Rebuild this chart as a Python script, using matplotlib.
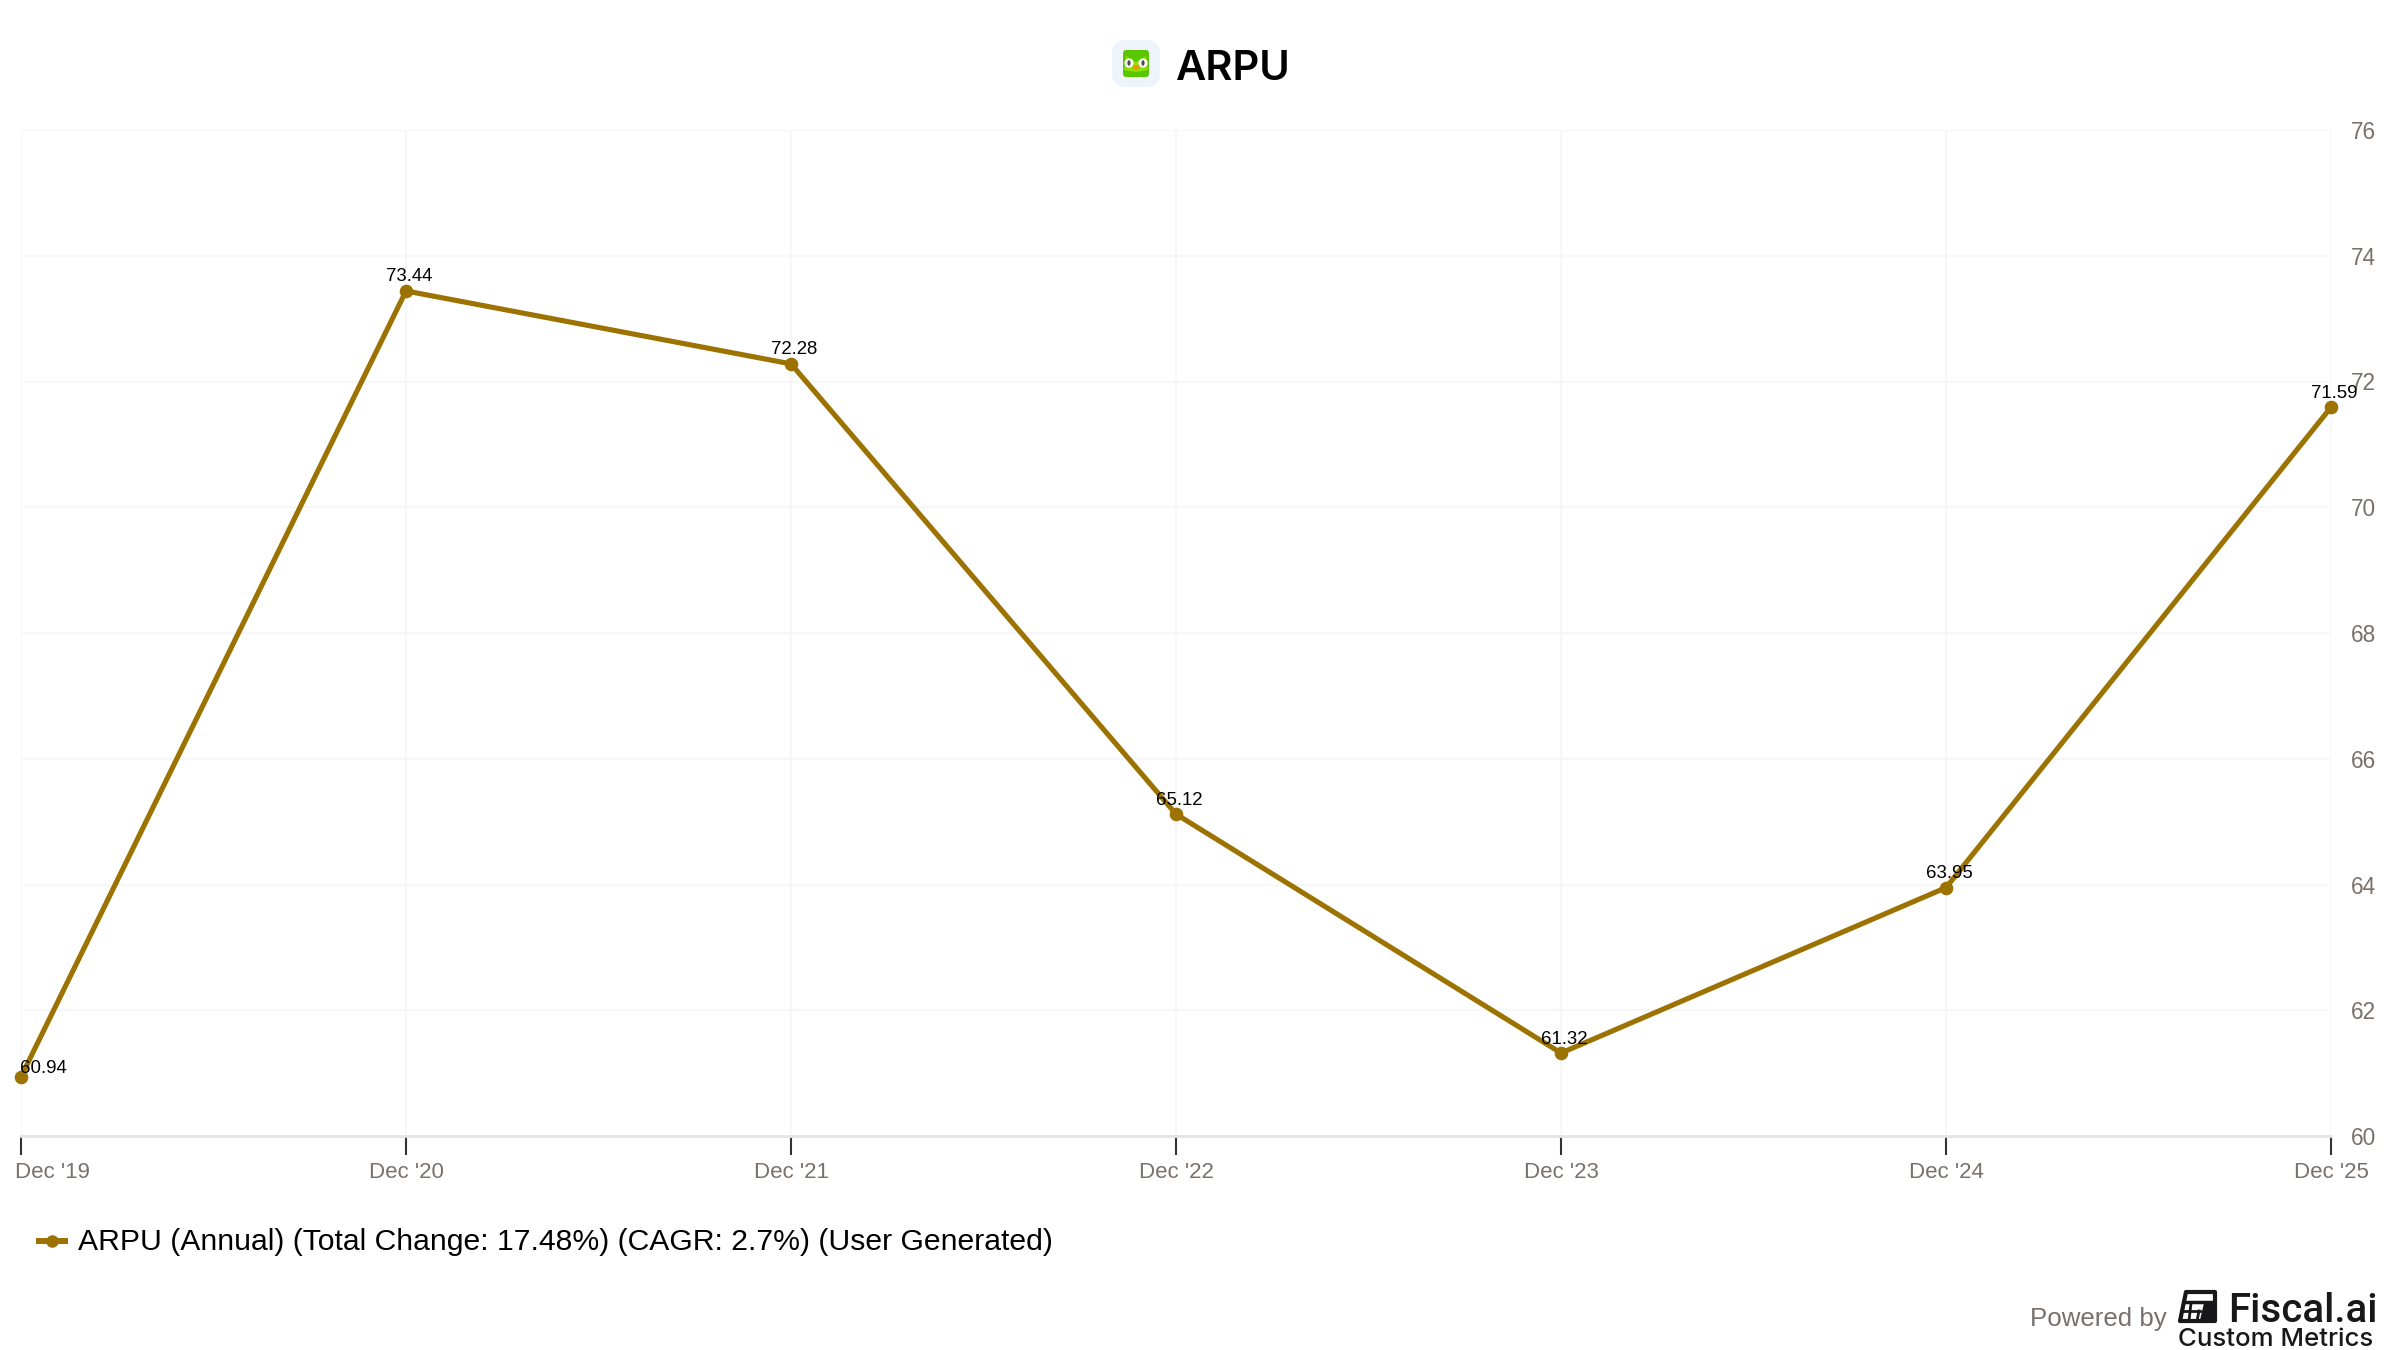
import matplotlib
matplotlib.use('Agg')
import matplotlib.pyplot as plt
import matplotlib.patches as patches
from matplotlib.transforms import ScaledTranslation

years = ["Dec '19", "Dec '20", "Dec '21", "Dec '22", "Dec '23", "Dec '24", "Dec '25"]
arpu = [60.94, 73.44, 72.28, 65.12, 61.32, 63.95, 71.59]
y_ticks = [60, 62, 64, 66, 68, 70, 72, 74, 76]
legend_text = "ARPU (Annual) (Total Change: 17.48%) (CAGR: 2.7%) (User Generated)"

line_color = '#9c7200'
grey = '#78716c'
dark = '#18181b'
W, H = 2400, 1350

plt.rcParams['font.family'] = ['Liberation Sans', 'DejaVu Sans']

fig = plt.figure(figsize=(24, 13.5), dpi=100)
ax = fig.add_axes([21 / W, 1 - 1136 / H, (2331 - 21) / W, (1136 - 130) / H])

xs = list(range(len(years)))
ax.plot(xs, arpu, color=line_color, lw=3.7, marker='o', ms=8.8, clip_on=False, zorder=3)

ax.set_xlim(0, len(years) - 1)
ax.set_ylim(60, 76)
ax.set_xticks(xs)
ax.set_xticklabels(years)
ax.set_yticks(y_ticks)
ax.yaxis.tick_right()
ax.grid(True, color='#f7f7f7', lw=1.5)
ax.set_axisbelow(True)
for s in ['left', 'top', 'right']:
    ax.spines[s].set_visible(False)
ax.spines['bottom'].set_color('#e5e5e5')
ax.spines['bottom'].set_linewidth(2)
ax.tick_params(axis='x', length=14, width=1.5, color='#333333', labelcolor=grey,
               labelsize=16, pad=5)
ax.tick_params(axis='y', length=0, labelcolor=grey, labelsize=16.3, pad=14.4)

# first x label sits inside the figure edge
first = ax.get_xticklabels()[0]
first.set_ha('left')
first.set_transform(first.get_transform() + ScaledTranslation(-6 / 100, 0, fig.dpi_scale_trans))

# value labels, first one is pushed inside the plot
for i, v in enumerate(arpu):
    ha = 'left' if i == 0 else 'center'
    dx = -1 if i == 0 else 3
    dy = 0 if i == 0 else 5.5
    ax.annotate(f'{v:.2f}', (i, v), xytext=(dx * 0.72, dy * 0.72), textcoords='offset points',
                ha=ha, va='bottom', fontsize=13.4, color='black', zorder=4)

# overlay in pixel coords for title, legend and footer
ov = fig.add_axes([0, 0, 1, 1])
ov.set_xlim(0, W)
ov.set_ylim(H, 0)
ov.set_axis_off()
ov.patch.set_alpha(0)

# duolingo icon
ov.add_patch(patches.FancyBboxPatch((1122, 50), 28, 27, boxstyle='round,pad=10,rounding_size=14',
                                    fc='#eff3fa', ec='none'))
ov.add_patch(patches.FancyBboxPatch((1125, 52), 22, 23, boxstyle='round,pad=2,rounding_size=3',
                                    fc='#58c700', ec='none'))
ov.add_patch(patches.Polygon([(1126, 56), (1136, 62), (1146, 56), (1148, 70), (1136, 72), (1124, 70)],
                             fc='#8ee000', ec='none'))
for ex in (1129, 1143):
    ov.add_patch(patches.Circle((ex, 63), 4.6, fc='white', ec='none'))
    ov.add_patch(patches.Ellipse((ex, 63), 3.2, 5.5, fc='#4b4b4b', ec='none'))
ov.add_patch(patches.Polygon([(1132, 65.5), (1140, 65.5), (1136, 71)], fc='#f49000', ec='none'))
ov.text(1176, 80, 'ARPU', fontsize=30, family=['Inter', 'DejaVu Sans'], fontweight=600,
        color='black', ha='left', va='baseline')

# legend
ov.plot([36, 68], [1241, 1241], color=line_color, lw=4.3, solid_capstyle='butt')
ov.plot([52], [1241], marker='o', ms=8, color=line_color)
ov.text(78, 1250, legend_text, fontsize=21.7, color='black', ha='left', va='baseline')

# footer
ov.text(2030, 1326, 'Powered by', fontsize=18.6, color=grey, ha='left', va='baseline')
ov.text(2228, 1322, 'Fiscal.ai', fontsize=29, family=['Roboto', 'DejaVu Sans'], fontweight=500,
        color=dark, ha='left', va='baseline')
ov.text(2178, 1346, 'Custom Metrics', fontsize=18.6, family=['Inter', 'DejaVu Sans'], fontweight=500,
        color=dark, ha='left', va='baseline')
ov.add_patch(patches.Polygon([(2186, 1292), (2215, 1292), (2215, 1321), (2180, 1321)],
                             closed=True, fc='white', ec=dark, lw=3, joinstyle='round'))
ov.add_patch(patches.Polygon([(2204, 1303), (2214, 1303), (2214, 1320), (2200, 1320)], fc=dark, ec='none'))
ov.plot([2184, 2214], [1302, 1302], color=dark, lw=2.5)
ov.plot([2182, 2200], [1311, 1311], color=dark, lw=2)
ov.plot([2191, 2189], [1303, 1321], color=dark, lw=2)
ov.plot([2199, 2197], [1311, 1321], color=dark, lw=2)

fig.savefig('out.png', dpi=100, facecolor='white')
